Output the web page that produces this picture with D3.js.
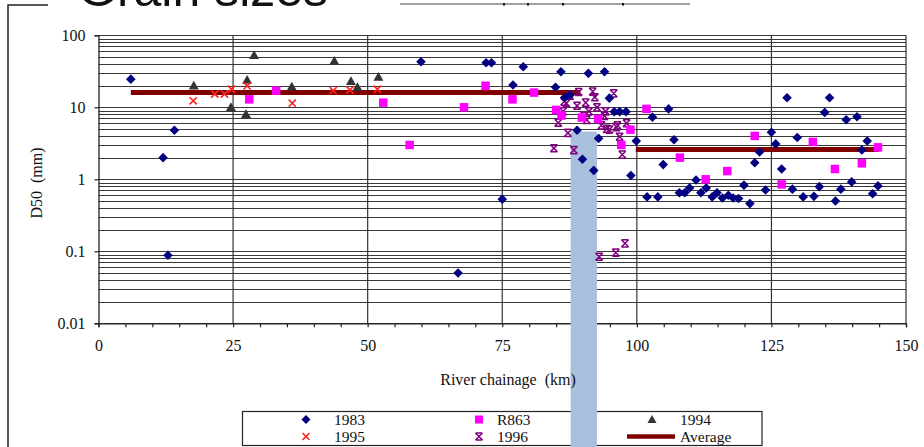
<!DOCTYPE html>
<html lang="en">
<head>
<meta charset="utf-8" />
<title>D50 grain sizes</title>
<script src="https://cdn.jsdelivr.net/npm/d3@7"></script>
<style>
  body { margin: 0; background: #fff; }
  svg text { font-family: "Liberation Serif", "DejaVu Serif", serif; fill: #111; }
</style>
</head>
<body>
<script>
// river chainage (km), D50 (mm)
var s1983 = [[6.0,24.6],[12.0,2.0],[12.9,0.088],[14.1,4.8],[59.9,43],[66.8,0.05],[72.0,41.6],[73.0,41.6],
  [75.0,0.53],[77.0,20.4],[78.9,36.6],[84.9,19],[85.9,31.2],[86.6,13.7],[87.6,14.8],[88.9,4.8],[89.9,1.9],
  [91.0,29.6],[92.0,1.33],[92.9,3.7],[94.0,31.2],[94.9,13.4],[95.8,8.7],[96.8,8.7],[98.0,8.7],[98.9,1.13],
  [99.9,3.4],[101.9,0.57],[102.9,7.3],[103.9,0.57],[104.9,1.6],[105.9,9.5],[106.9,3.55],[107.9,0.65],
  [108.9,0.65],[109.8,0.76],[111.0,0.98],[111.9,0.65],[112.9,0.76],[114.0,0.57],[114.9,0.65],[115.9,0.55],
  [117.0,0.6],[117.9,0.55],[118.9,0.54],[119.9,0.83],[121.0,0.46],[121.9,1.7],[122.8,2.4],[123.9,0.71],
  [125.0,4.5],[125.8,3.1],[126.9,1.39],[127.9,13.6],[128.9,0.73],[129.8,3.8],[130.9,0.57],[132.9,0.58],
  [133.9,0.79],[134.9,8.5],[135.8,13.6],[136.9,0.5],[137.9,0.73],[138.9,6.7],[139.9,0.92],[140.9,7.4],
  [141.8,2.55],[142.8,3.4],[143.8,0.63],[144.8,0.81]];
var sR863 = [[28.0,12.9],[33.0,17.0],[52.9,11.6],[57.8,3.0],[67.9,10.0],[71.9,19.9],[76.9,12.9],[80.9,16],
  [85.0,9.2],[86.0,7.7],[89.8,7.2],[92.8,6.9],[97.1,3.0],[98.8,4.9],[101.8,9.5],[108.0,2.0],[112.8,1.0],
  [116.8,1.3],[121.9,4.0],[126.9,0.85],[132.7,3.3],[136.8,1.39],[141.8,1.67],[144.8,2.78]];
var s1994 = [[17.7,20],[24.6,10],[27.4,8.0],[27.6,23.9],[28.9,53],[35.9,19.3],[43.8,44],[46.9,23],[48.1,19],[52.0,26.4]];
var s1995 = [[17.6,12.3],[21.6,15.3],[23.4,15.3],[24.7,17.8],[27.6,19.8],[36.0,11.4],[43.6,17],[46.7,17.4],[51.8,17.8]];
var s1996 = [[84.6,2.7],[85.4,6.1],[86.3,8.8],[86.5,12],[86.9,11.4],[87.2,4.4],[87.6,14.5],[88.3,2.55],[88.9,10.5],
  [89.2,16.3],[90.2,7.6],[90.5,11.6],[90.7,6.7],[91.1,8.8],[91.8,16.5],[92.2,13.8],[92.6,10],[93.0,0.084],
  [93.4,5.6],[94.0,7.6],[94.2,8.8],[94.4,5.0],[94.9,4.9],[95.7,15.6],[96.1,0.096],[96.2,5.3],[96.4,5.6],
  [96.8,3.9],[97.3,2.2],[97.8,0.129],[98.1,6.0]];
// average D50 per reach: [from km, to km, value]
var averages = [[6, 89.5, 16], [99.8, 145, 2.6]];
// highlighted reach (km)
var bandKm = [87.7, 92.6];
var bandTop = 4.6;

var xTicks = [0, 25, 50, 75, 100, 125, 150];
var yTicks = [0.01, 0.1, 1, 10, 100];
var yTickLabels = ["0.01", "0.1", "1", "10", "100"];
var legendNames = ["1983", "R863", "1994", "1995", "1996", "Average"];

var w = 924, h = 447;
var padL = 98.5, padR = 906, padT = 35.3, padB = 323.3;

var xScale = d3.scaleLinear().domain([0, 150]).range([padL, padR]);
var yScale = d3.scaleLog().domain([0.01, 100]).range([padB, padT]);

var svg = d3.select("body").append("svg").attr("width", w).attr("height", h);

// marker shapes
function diamond(sel, r) {
  sel.append("path").attr("d", "M0," + (-r) + "L" + r + ",0L0," + r + "L" + (-r) + ",0Z").attr("fill", "#000080");
}
function square(sel, s) {
  sel.append("rect").attr("x", -s / 2).attr("y", -s / 2).attr("width", s).attr("height", s).attr("fill", "#ff00ff");
}
function triangle(sel, r) {
  sel.append("path").attr("d", "M0," + (-r) + "L" + r + "," + (r * 0.75) + "L" + (-r) + "," + (r * 0.75) + "Z").attr("fill", "#333");
}
function cross(sel, r) {
  sel.append("path").attr("d", "M" + (-r) + "," + (-r) + "L" + r + "," + r + "M" + r + "," + (-r) + "L" + (-r) + "," + r)
    .attr("stroke", "#ff2020").attr("stroke-width", 1.6).attr("fill", "none");
}
function star(sel, r) {
  sel.append("path").attr("d", "M" + (-r) + "," + (-r) + "L" + r + "," + r + "M" + r + "," + (-r) + "L" + (-r) + "," + r +
      "M" + (-r) + "," + (-r) + "L" + r + "," + (-r) + "M" + (-r) + "," + r + "L" + r + "," + r)
    .attr("stroke", "#800080").attr("stroke-width", 1.5).attr("fill", "none");
}

// cut-off slide title and frame bits
svg.append("text").attr("x", 78).attr("y", 6)
  .style("font-family", "'Liberation Sans', Arial, sans-serif").style("font-size", "50px")
  .text("Grain sizes");
svg.append("path").attr("d", "M8,447V5H48").attr("fill", "none").attr("stroke", "#222").attr("stroke-width", 1.5);
svg.append("line").attr("x1", 400).attr("x2", 690).attr("y1", 4).attr("y2", 4).attr("stroke", "#444").attr("stroke-width", 1.2);
[504, 528, 563, 623].forEach(function(px) {
  svg.append("rect").attr("x", px - 1).attr("y", 3).attr("width", 2).attr("height", 2.5).attr("fill", "#111");
});

// horizontal log gridlines
var gridVals = [];
for (var d = -2; d < 2; d++) {
  for (var m = 1; m < 10; m++) gridVals.push(m * Math.pow(10, d));
}
gridVals.push(100);
svg.append("g").selectAll("line").data(gridVals).enter().append("line")
  .attr("x1", padL).attr("x2", padR)
  .attr("y1", function(v) { return Math.round(yScale(v)) + 0.5; })
  .attr("y2", function(v) { return Math.round(yScale(v)) + 0.5; })
  .attr("stroke", "#3a3a3a").attr("stroke-width", 1);

// vertical gridlines
svg.append("g").selectAll("line").data(xTicks.slice(1)).enter().append("line")
  .attr("x1", function(k) { return xScale(k); }).attr("x2", function(k) { return xScale(k); })
  .attr("y1", padT).attr("y2", padB)
  .attr("stroke", "#333").attr("stroke-width", 1.2);

// axes
var xAxis = d3.axisBottom(xScale).tickValues(d3.range(0, 151, 5)).tickSize(4).tickPadding(12)
  .tickFormat(function(k) { return xTicks.indexOf(k) >= 0 ? String(k) : ""; });
var yAxis = d3.axisLeft(yScale).tickValues(yTicks).tickSize(4).tickPadding(9)
  .tickFormat(function(v, i) { return yTickLabels[i]; });

var gx = svg.append("g").attr("class", "x axis").attr("transform", "translate(0," + padB + ")").call(xAxis);
var gy = svg.append("g").attr("class", "y axis").attr("transform", "translate(" + padL + ",0)").call(yAxis);
[gx, gy].forEach(function(g) {
  g.select(".domain").attr("stroke", "#222").attr("stroke-width", 1.3);
  g.selectAll(".tick line").attr("stroke", "#222").attr("stroke-width", 1.2);
  g.selectAll("text").style("font-family", "'Liberation Serif', serif").style("font-size", "16px").attr("fill", "#111");
});

// legend box
var legend = svg.append("g");
legend.append("rect").attr("x", 242.5).attr("y", 411.5).attr("width", 519.5).attr("height", 34)
  .attr("fill", "#fff").attr("stroke", "#222").attr("stroke-width", 1.2);

// highlighted reach
svg.append("rect")
  .attr("x", xScale(bandKm[0])).attr("width", xScale(bandKm[1]) - xScale(bandKm[0]))
  .attr("y", yScale(bandTop)).attr("height", h - yScale(bandTop))
  .attr("fill", "#a8c0dc");

// axis titles
svg.append("text").attr("x", 508).attr("y", 385).attr("text-anchor", "middle")
  .style("font-size", "16px").style("white-space", "pre").text("River chainage  (km)");
svg.append("text").attr("transform", "translate(42,183) rotate(-90)").attr("text-anchor", "middle")
  .style("font-size", "16px").style("white-space", "pre").text("D50  (mm)");

// average lines
svg.append("g").selectAll("line").data(averages).enter().append("line")
  .attr("x1", function(a) { return xScale(a[0]); }).attr("x2", function(a) { return xScale(a[1]); })
  .attr("y1", function(a) { return yScale(a[2]); }).attr("y2", function(a) { return yScale(a[2]); })
  .attr("stroke", "#800000").attr("stroke-width", 5);

function plotSeries(data, draw, size) {
  svg.append("g").selectAll("g").data(data).enter().append("g")
    .attr("transform", function(p) { return "translate(" + xScale(p[0]) + "," + yScale(p[1]) + ")"; })
    .each(function() { draw(d3.select(this), size); });
}
plotSeries(s1996, star, 3.6);
plotSeries(s1983, diamond, 4.8);
plotSeries(sR863, square, 8.5);
plotSeries(s1994, triangle, 5);
plotSeries(s1995, cross, 3.6);

// legend entries
var legendCols = [[306, 334], [479, 497], [652, 680]];
var legendRows = [419.5, 436.5];
var legendDraw = [diamond, square, triangle, cross, star, null];
var legendSize = [4.5, 8, 4.5, 3.5, 3.5, 0];
legendNames.forEach(function(name, i) {
  var col = legendCols[i % 3], row = legendRows[Math.floor(i / 3)];
  var g = legend.append("g").attr("transform", "translate(" + col[0] + "," + row + ")");
  if (legendDraw[i]) legendDraw[i](g, legendSize[i]);
  else g.append("line").attr("x1", -25).attr("x2", 23).attr("stroke", "#800000").attr("stroke-width", 4.5);
  legend.append("text").attr("x", col[1]).attr("y", row + 5.5).style("font-size", "15.5px").text(name);
});
</script>
</body>
</html>
